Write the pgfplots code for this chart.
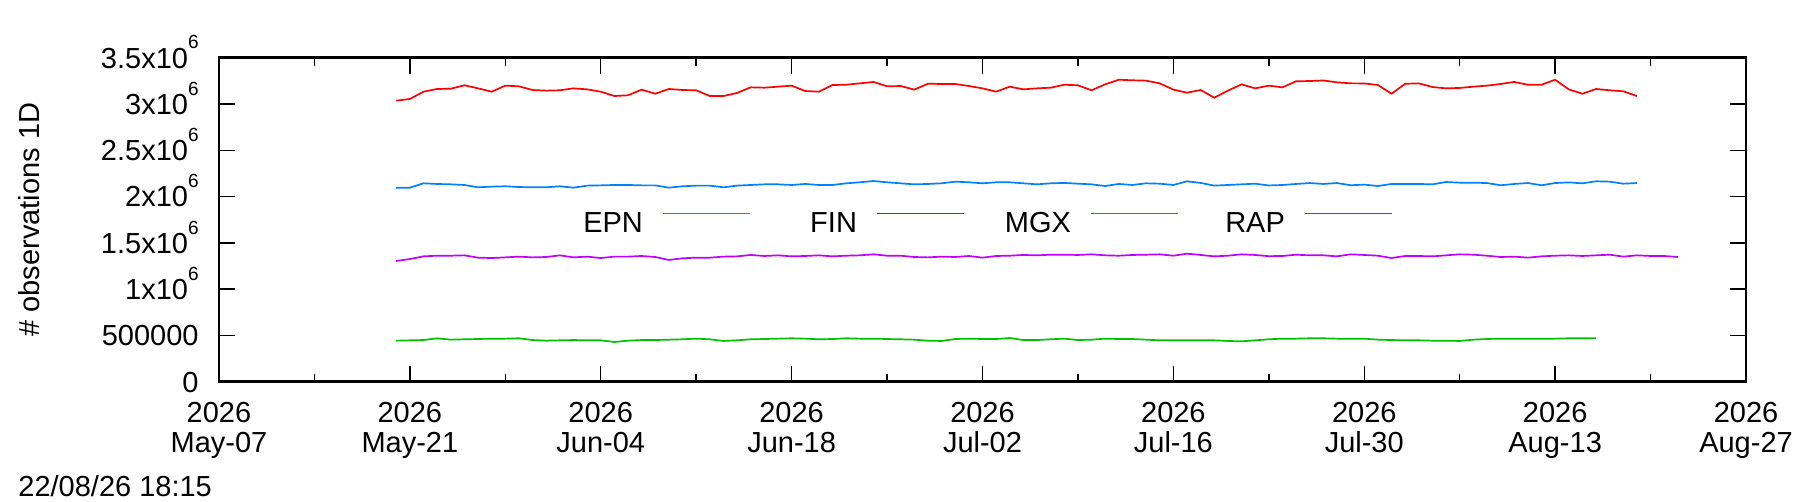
\documentclass[border=0pt]{standalone}
\usepackage{fontspec}
\setmainfont{Liberation Sans}
\usepackage{pgfplots}
\pgfplotsset{compat=1.18}
\definecolor{cEPN}{HTML}{00C000}
\definecolor{cFIN}{HTML}{FF0000}
\definecolor{cMGX}{HTML}{0080FF}
\definecolor{cRAP}{HTML}{C000FF}
\newcommand\sx{\raisebox{9.6pt}{\fontsize{9.5}{10}\selectfont 6}}
\begin{document}
\begin{tikzpicture}[font=\fontsize{14.5}{15}\selectfont]
\useasboundingbox (0,0) rectangle (900pt,251pt);
\begin{axis}[
  at={(109.5pt,60.15pt)}, anchor=south west,
  scale only axis, width=763.5pt, height=162pt,
  xmin=0, xmax=112, ymin=0, ymax=3500000,
  axis line style={line width=1.3pt},
  tick style={line width=0.7pt, black},
  major tick length=8pt, minor tick length=4pt,
  tick align=inside,
  xtick={0,14,28,42,56,70,84,98,112},
  minor xtick={7,21,35,49,63,77,91,105},
  xticklabels={{2026\\May-07},{2026\\May-21},{2026\\Jun-04},{2026\\Jun-18},{2026\\Jul-02},{2026\\Jul-16},{2026\\Jul-30},{2026\\Aug-13},{2026\\Aug-27}},
  xticklabel style={align=center, anchor=north, inner sep=0pt, yshift=-10pt},
  ytick={0,500000,1000000,1500000,2000000,2500000,3000000,3500000},
  yticklabels={0,500000,1x10\sx,1.5x10\sx,2x10\sx,2.5x10\sx,3x10\sx,3.5x10\sx},
  yticklabel style={anchor=base east, inner sep=0pt, xshift=-10pt, yshift=-5.2pt},
  scaled y ticks=false, scaled x ticks=false,
  ylabel={\# observations 1D},
  ylabel style={at={(axis description cs:-0.1244,0.5)}, anchor=center},
  legend columns=4,
  legend plot pos=right,
  legend style={draw=none, fill=none, inner sep=0pt, outer sep=0pt,
    column sep=0pt, nodes={inner sep=0pt, outer sep=0pt},
    at={(rel axis cs:0.2344,0.501)}, anchor=west},
  legend image code/.code={\path[draw=none,fill=none] (0pt,0pt) rectangle (74pt,10.4pt); \draw[line width=0.85pt] (10pt,5.2pt) -- (53.5pt,5.2pt);},
  every axis plot/.append style={line width=0.85pt},
]
\addplot[color=cEPN] table {
13 443000
14 447000
15 450000
16 469000
17 454000
18 458000
19 461000
20 465000
21 465000
22 469000
23 450000
24 443000
25 447000
26 450000
27 447000
28 447000
29 429000
30 443000
31 450000
32 450000
33 454000
34 458000
35 465000
36 458000
37 440000
38 447000
39 458000
40 461000
41 465000
42 469000
43 465000
44 458000
45 461000
46 469000
47 465000
48 465000
49 461000
50 458000
51 454000
52 443000
53 440000
54 461000
55 465000
56 461000
57 461000
58 472000
59 450000
60 450000
61 458000
62 465000
63 450000
64 454000
65 465000
66 461000
67 461000
68 454000
69 447000
70 447000
71 447000
72 447000
73 447000
74 440000
75 436000
76 447000
77 458000
78 465000
79 465000
80 469000
81 469000
82 465000
83 465000
84 465000
85 454000
86 450000
87 447000
88 447000
89 443000
90 443000
91 440000
92 454000
93 461000
94 465000
95 465000
96 465000
97 465000
98 465000
99 469000
100 469000
101 469000
};
\addlegendentry{\makebox[33pt][r]{EPN}}
\addplot[color=cFIN] table {
13 3036000
14 3054000
15 3133000
16 3162000
17 3165000
18 3202000
19 3169000
20 3133000
21 3198000
22 3191000
23 3151000
24 3144000
25 3148000
26 3169000
27 3158000
28 3133000
29 3086000
30 3094000
31 3155000
32 3111000
33 3162000
34 3151000
35 3148000
36 3086000
37 3086000
38 3119000
39 3180000
40 3176000
41 3187000
42 3198000
43 3140000
44 3133000
45 3205000
46 3208000
47 3223000
48 3238000
49 3191000
50 3194000
51 3155000
52 3219000
53 3216000
54 3216000
55 3194000
56 3169000
57 3133000
58 3187000
59 3158000
60 3169000
61 3176000
62 3208000
63 3202000
64 3148000
65 3212000
66 3262000
67 3256000
68 3252000
69 3223000
70 3155000
71 3122000
72 3151000
73 3068000
74 3144000
75 3212000
76 3169000
77 3198000
78 3180000
79 3245000
80 3248000
81 3254000
82 3234000
83 3223000
84 3222000
85 3205000
86 3111000
87 3218000
88 3223000
89 3183000
90 3169000
91 3173000
92 3187000
93 3198000
94 3216000
95 3238000
96 3208000
97 3208000
98 3262000
99 3158000
100 3111000
101 3162000
102 3148000
103 3137000
104 3086000
};
\addlegendentry{\makebox[33pt][r]{FIN}}
\addplot[color=cMGX] table {
13 2096000
14 2096000
15 2143000
16 2136000
17 2132000
18 2125000
19 2100000
20 2107000
21 2111000
22 2103000
23 2100000
24 2100000
25 2111000
26 2096000
27 2118000
28 2121000
29 2125000
30 2125000
31 2121000
32 2121000
33 2096000
34 2111000
35 2118000
36 2118000
37 2100000
38 2118000
39 2125000
40 2132000
41 2132000
42 2125000
43 2136000
44 2125000
45 2125000
46 2143000
47 2154000
48 2168000
49 2154000
50 2143000
51 2132000
52 2136000
53 2143000
54 2161000
55 2154000
56 2143000
57 2154000
58 2154000
59 2143000
60 2132000
61 2143000
62 2147000
63 2139000
64 2132000
65 2114000
66 2136000
67 2125000
68 2143000
69 2139000
70 2125000
71 2165000
72 2147000
73 2118000
74 2125000
75 2132000
76 2139000
77 2120000
78 2125000
79 2136000
80 2146000
81 2136000
82 2146000
83 2122000
84 2129000
85 2114000
86 2136000
87 2136000
88 2136000
89 2132000
90 2157000
91 2150000
92 2150000
93 2146000
94 2122000
95 2136000
96 2146000
97 2122000
98 2146000
99 2153000
100 2143000
101 2165000
102 2161000
103 2139000
104 2146000
};
\addlegendentry{\makebox[33pt][r]{MGX}}
\addplot[color=cRAP] table {
13 1304000
14 1325000
15 1354000
16 1361000
17 1361000
18 1365000
19 1340000
20 1336000
21 1343000
22 1351000
23 1343000
24 1347000
25 1365000
26 1343000
27 1351000
28 1336000
29 1351000
30 1351000
31 1358000
32 1347000
33 1315000
34 1333000
35 1340000
36 1340000
37 1351000
38 1354000
39 1369000
40 1358000
41 1365000
42 1354000
43 1358000
44 1365000
45 1354000
46 1361000
47 1365000
48 1376000
49 1361000
50 1361000
51 1347000
52 1343000
53 1351000
54 1347000
55 1358000
56 1340000
57 1358000
58 1361000
59 1369000
60 1365000
61 1372000
62 1372000
63 1369000
64 1376000
65 1365000
66 1361000
67 1369000
68 1372000
69 1376000
70 1361000
71 1383000
72 1369000
73 1354000
74 1361000
75 1376000
76 1369000
77 1356000
78 1358000
79 1372000
80 1365000
81 1365000
82 1354000
83 1376000
84 1369000
85 1361000
86 1336000
87 1358000
88 1358000
89 1354000
90 1365000
91 1376000
92 1372000
93 1361000
94 1347000
95 1351000
96 1340000
97 1354000
98 1361000
99 1365000
100 1358000
101 1365000
102 1372000
103 1351000
104 1365000
105 1358000
106 1358000
107 1347000
};
\addlegendentry{\makebox[33pt][r]{RAP}}
\end{axis}
\node[anchor=base west, inner sep=0pt] at (9pt,2.5pt) {22/08/26 18:15};
\end{tikzpicture}
\end{document}
